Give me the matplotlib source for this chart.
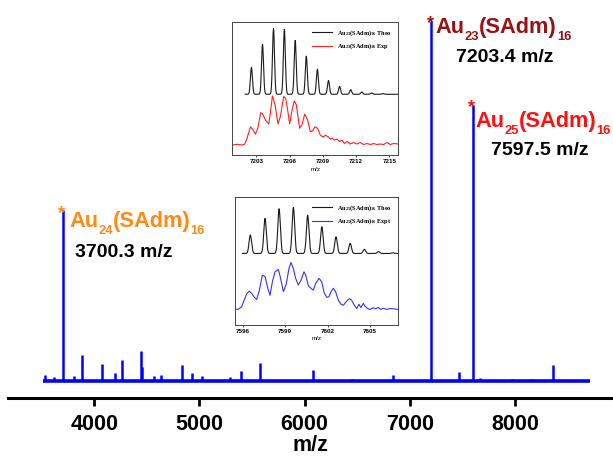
import numpy as np
import matplotlib
matplotlib.use("Agg")
import matplotlib.pyplot as plt

plt.rcParams['font.family'] = ['Liberation Sans', 'DejaVu Sans']
plt.rcParams['font.weight'] = 'bold'
plt.rcParams['mathtext.fontset'] = 'custom'
plt.rcParams['mathtext.rm'] = 'Liberation Serif:bold'
plt.rcParams['mathtext.it'] = 'Liberation Serif:bold'
plt.rcParams['mathtext.bf'] = 'Liberation Serif:bold'

# main spectrum: peak positions (m/z) and relative intensity
peak_mz = [3529, 3617, 3700.3, 3810, 3880, 4073, 4197, 4260, 4444, 4455, 4567, 4636,
           4836, 4928, 5020, 5295, 5400, 5580, 6080, 6450, 6840, 7203.4, 7466, 7597.5,
           7670, 7967, 8150, 8359]
peak_int = [1.7, 1.0, 47.5, 1.4, 7.2, 4.8, 2.1, 5.8, 8.3, 3.9, 1.5, 1.75,
            4.4, 2.3, 1.5, 1.2, 2.9, 4.9, 3.1, 0.6, 1.7, 100, 2.5, 76.7,
            0.9, 0.6, 0.5, 4.5]
spec_start, spec_end = 3510, 8710
xticks_main = [4000, 5000, 6000, 7000, 8000]

# inset 1: Au23(SAdm)16
theo23_mz = [7202.55, 7203.55, 7204.54, 7205.52, 7206.5, 7207.5, 7208.5, 7209.5,
             7210.5, 7211.5, 7212.5, 7213.4, 7214.4]
theo23_int = [0.41, 0.76, 1.0, 0.99, 0.82, 0.58, 0.38, 0.21, 0.12, 0.07, 0.035, 0.02, 0.01]
exp23_mz = [7200.87, 7201.26, 7201.71, 7201.95, 7202.16, 7202.46, 7202.67, 7202.91,
            7203.12, 7203.39, 7203.57, 7203.81, 7204.11, 7204.26, 7204.44, 7204.68,
            7204.95, 7205.16, 7205.46, 7205.64, 7205.82, 7206.0, 7206.21, 7206.42,
            7206.6, 7206.9, 7207.11, 7207.35, 7207.62, 7207.86, 7208.07, 7208.28,
            7208.52, 7208.77, 7209.01, 7209.22, 7209.46, 7209.67, 7209.82, 7210.03,
            7210.27, 7210.51, 7210.72, 7210.93, 7211.17, 7211.47, 7211.77, 7212.07,
            7212.37, 7212.67, 7212.97, 7213.27, 7213.57, 7213.87, 7214.17, 7214.47,
            7214.77, 7215.07, 7215.37, 7215.82]
exp23_int = [0.0, 0.014, 0.0, 0.02, 0.14, 0.37, 0.32, 0.22,
             0.34, 0.66, 0.63, 0.51, 0.43, 0.65, 1.0, 0.82,
             0.43, 0.58, 0.99, 0.95, 0.71, 0.43, 0.71, 0.9,
             0.82, 0.34, 0.41, 0.63, 0.51, 0.27, 0.29, 0.37,
             0.34, 0.2, 0.16, 0.2, 0.17, 0.12, 0.14, 0.1,
             0.12, 0.07, 0.1, 0.03, 0.07, 0.02, 0.05, 0.02,
             0.05, 0.01, 0.03, 0.01, 0.03, 0.01, 0.02, 0.01,
             0.05, 0.01, 0.03, 0.02]

# inset 2: Au25(SAdm)16
theo25_mz = [7596.55, 7597.59, 7598.58, 7599.59, 7600.6, 7601.6, 7602.6, 7603.6,
             7604.6, 7605.6, 7606.6]
theo25_int = [0.4, 0.76, 0.97, 1.0, 0.83, 0.58, 0.36, 0.22, 0.09, 0.04, 0.015]
exp25_mz = [7595.47, 7595.71, 7595.94, 7596.13, 7596.29, 7596.48, 7596.65, 7596.83,
            7597.0, 7597.19, 7597.4, 7597.59, 7597.78, 7597.94, 7598.11, 7598.29,
            7598.53, 7598.69, 7598.88, 7599.07, 7599.28, 7599.42, 7599.59, 7599.75,
            7599.94, 7600.13, 7600.34, 7600.46, 7600.65, 7600.83, 7601.0, 7601.16,
            7601.4, 7601.59, 7601.77, 7601.94, 7602.1, 7602.25, 7602.41, 7602.57,
            7602.76, 7602.95, 7603.12, 7603.3, 7603.54, 7603.7, 7603.89, 7604.06,
            7604.22, 7604.36, 7604.53, 7604.64, 7604.83, 7605.0, 7605.23, 7605.4,
            7605.59, 7605.77, 7605.94, 7606.17, 7606.41, 7606.64, 7607.0]
exp25_int = [0.0, 0.007, 0.057, 0.21, 0.33, 0.39, 0.34, 0.26,
             0.21, 0.41, 0.73, 0.7, 0.45, 0.3, 0.59, 0.8,
             0.85, 0.66, 0.38, 0.52, 0.87, 1.0, 0.87, 0.66,
             0.52, 0.62, 0.8, 0.73, 0.5, 0.45, 0.41, 0.55,
             0.66, 0.59, 0.35, 0.26, 0.27, 0.38, 0.45, 0.38,
             0.2, 0.11, 0.09, 0.16, 0.23, 0.2, 0.09, 0.02,
             0.11, 0.04, 0.13, 0.07, 0.02, 0.0, 0.035, 0.014,
             0.043, 0.0, 0.028, 0.0, 0.021, 0.014, 0.0]


def isotope_profile(x, centers, heights, sigma=0.09):
    y = np.zeros_like(x)
    for c, h in zip(centers, heights):
        y += h * np.exp(-(x - c) ** 2 / (2 * sigma ** 2))
    return y


fig = plt.figure(figsize=(6.13, 4.57), dpi=100)
ax = fig.add_axes([0.0135, 0.1284, 0.9845, 0.8716])
ax.set_xlim(3183, 8920)
ax.set_ylim(-4.8, 105.8)

blue = '#0000ff'
ax.hlines(0, spec_start, spec_end, color=blue, lw=2.6)
ax.vlines(peak_mz, 0, peak_int, color=blue, lw=1.8)

for s in ['left', 'right', 'top']:
    ax.spines[s].set_visible(False)
ax.spines['bottom'].set_linewidth(2.2)
ax.set_yticks([])
ax.set_xticks(xticks_main)
ax.tick_params(axis='x', direction='out', length=6, width=2, labelsize=15.5, pad=5)
ax.set_xlabel('m/z', fontsize=15.5, fontweight='bold', labelpad=0)

renderer = fig.canvas.get_renderer()
W, H = fig.bbox.width, fig.bbox.height


def formula_label(x, y, parts, color, size=15.7, sub_size=9.3, drop=5.3):
    # draw "Au_23(SAdm)_16" piece by piece so the subscripts sit low like the original
    px, py = ax.transData.transform((x, y))
    for txt, is_sub in parts:
        fs = sub_size if is_sub else size
        yy = py - (drop * fig.dpi / 72 if is_sub else 0)
        t = fig.text(px / W, yy / H, txt, fontsize=fs, color=color,
                     fontweight='bold', va='baseline', ha='left')
        px = t.get_window_extent(renderer).x1


labels = [
    (7203.4, 100, '23', '7203.4 m/z', '#9b1111', (7245, 96.6), (7442, 88.6)),
    (7597.5, 76.7, '25', '7597.5 m/z', '#ff1010', (7620, 70.6), (7774, 62.8)),
    (3700.3, 47.5, '24', '3700.3 m/z', '#ff8a14', (3763, 42.9), (3817, 34.5)),
]
for mz, h, n, val, col, p1, p2 in labels:
    ax.annotate('*', xy=(mz, h), xytext=(-0.5, -5.5), textcoords='offset points',
                ha='center', va='baseline', fontsize=13, color=col, fontweight='bold')
    formula_label(p1[0], p1[1], [('Au', False), (n, True), ('(SAdm)', False), ('16', True)], col)
    ax.text(p2[0], p2[1], val, fontsize=14, color='black', fontweight='bold', va='baseline')


def draw_inset(rect, xlim, ylim, xticks, theo_mz, theo_int, exp_mz, exp_int,
               offset, scale, exp_color, name, exp_tag):
    a = fig.add_axes(rect)
    a.set_xlim(*xlim)
    a.set_ylim(*ylim)
    x = np.linspace(theo_mz[0] - 0.55, xlim[1], 2000)
    a.plot(x, offset + scale * isotope_profile(x, theo_mz, theo_int), color='#1a1a1a',
           lw=0.8, label=name + ' Theo')
    a.plot(exp_mz, exp_int, color=exp_color, lw=0.8, label=name + ' ' + exp_tag)
    a.set_yticks([])
    a.set_xticks(xticks)
    a.tick_params(axis='x', labelsize=4.5, length=1.5, width=0.5, pad=1.5)
    for s in a.spines.values():
        s.set_linewidth(0.7)
        s.set_color('#444444')
    a.set_xlabel('m/z', fontsize=4.5, labelpad=2, fontweight='normal')
    a.legend(loc='upper right', frameon=False, handlelength=3.2,
             borderaxespad=0.6, labelspacing=0.6,
             prop={'family': 'Liberation Serif', 'weight': 'bold', 'size': 4.5})
    return a


draw_inset([0.3785, 0.6602, 0.2713, 0.2917], (7200.8, 7215.8), (-0.21, 2.51),
           [7203, 7206, 7209, 7212, 7215], theo23_mz, theo23_int, exp23_mz, exp23_int,
           1.035, 1.34, '#ff2020', 'Au$_{23}$(SAdm)$_{16}$', 'Exp')
draw_inset([0.3834, 0.2899, 0.2664, 0.279], (7595.47, 7607.0), (-0.32, 2.39),
           [7596, 7599, 7602, 7605], theo25_mz, theo25_int, exp25_mz, exp25_int,
           1.19, 0.98, '#3333ff', 'Au$_{25}$(SAdm)$_{16}$', 'Expt')

fig.savefig('out.png', dpi=100)
